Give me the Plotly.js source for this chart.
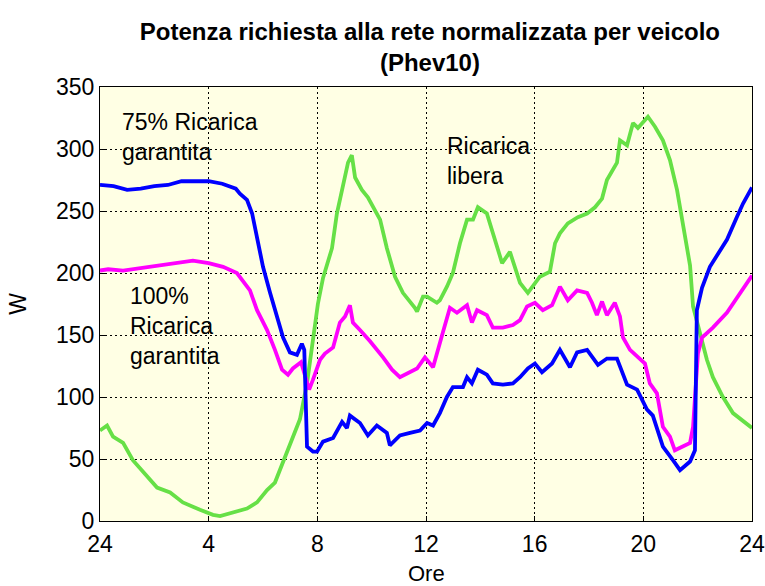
<!DOCTYPE html>
<html>
<head>
<meta charset="utf-8">
<script src="https://cdn.plot.ly/plotly-3.0.1.min.js"></script>
<style>body{margin:0;background:#fff}#chart{width:765px;height:586px}</style>
</head>
<body>
<div id="chart"></div>
<script>
// Hours of day (0 = midnight, shown as "24")
const tickVals = [0, 4, 8, 12, 16, 20, 24];
const tickLabels = ['24', '4', '8', '12', '16', '20', '24'];

// Ricarica libera (green)
const liberaHours = [0,0.26,0.48,0.85,1.21,1.73,2.1,2.58,3.05,3.68,4.16,4.42,4.9,5.41,5.78,6.15,6.44,6.74,7.1,7.36,7.62,7.8,8.02,8.21,8.54,8.72,8.94,9.13,9.27,9.39,9.64,9.86,10.31,10.56,10.86,11.15,11.59,11.67,11.89,12.04,12.4,12.51,12.77,12.99,13.25,13.51,13.73,13.91,14.24,14.46,14.8,15.09,15.46,15.75,16.19,16.56,16.75,16.93,17.22,17.59,17.93,18.22,18.48,18.66,19.03,19.14,19.4,19.62,19.8,20.17,20.43,20.72,20.98,21.24,21.46,21.72,21.83,22.08,22.34,22.56,22.93,23.3,23.67,24];
const liberaW = [73,77,68,63,49,36,27,23,15,9,5,4,7,10,15,25,31,47,68,82,111,138,175,196,220,248,269,289,295,277,267,261,243,220,197,184,172,169,181,181,176,178,189,200,224,243,243,253,248,232,208,217,192,184,197,201,224,232,240,245,248,253,260,275,289,307,303,321,317,326,318,307,291,267,237,206,173,152,130,116,100,87,81,75];

// 100% Ricarica garantita (magenta)
const g100Hours = [0,0.3,0.85,1.5,2.1,2.8,3.42,4.0,4.53,5.04,5.52,5.78,6.15,6.44,6.7,6.92,7.1,7.4,7.7,7.84,8.1,8.28,8.58,8.83,9.02,9.2,9.31,9.57,9.94,10.42,10.75,11.04,11.3,11.67,11.96,12.26,12.62,12.88,13.14,13.51,13.69,13.88,14.24,14.46,14.83,15.2,15.46,15.72,16.01,16.3,16.64,16.93,17.22,17.56,17.93,18.11,18.29,18.48,18.66,18.95,19.14,19.25,19.51,19.87,20.06,20.24,20.5,20.72,20.98,21.16,21.46,21.72,21.83,22.01,22.16,22.56,23.08,23.55,24];
const g100W = [202,203,202,204,206,208,210,208,205,200,186,170,154,138,122,118,123,128,106,114,130,135,140,160,165,174,160,154,145,132,122,116,119,123,132,124,152,172,168,174,160,170,166,156,156,158,162,173,176,170,174,189,178,186,184,176,166,177,166,176,165,148,138,131,127,111,103,76,68,57,60,63,76,135,148,156,168,184,198];

// 75% Ricarica garantita (blue)
const g75Hours = [0,0.5,1.0,1.5,2.0,2.5,3.0,3.5,4.0,4.5,5.0,5.15,5.41,5.6,5.78,6.0,6.26,6.44,6.74,6.99,7.25,7.43,7.52,7.62,7.84,7.99,8.21,8.58,8.91,9.09,9.2,9.57,9.86,10.19,10.56,10.67,11.04,11.41,11.78,12.04,12.26,12.51,12.77,12.99,13.36,13.51,13.69,13.91,14.24,14.46,14.83,15.2,15.46,15.75,16.01,16.27,16.64,16.93,17.3,17.56,17.93,18.33,18.66,19.03,19.4,19.77,20.13,20.35,20.72,21.09,21.35,21.72,21.9,21.97,22.08,22.16,22.45,22.82,23.08,23.44,23.67,24];
const g75W = [271,270,267,268,270,271,274,274,274,272,268,264,259,248,229,205,184,170,148,136,134,143,138,60,56,56,64,67,80,75,85,79,69,77,71,61,69,71,73,79,77,87,100,108,108,116,111,122,118,111,110,111,116,123,127,120,127,138,124,136,138,126,131,131,110,106,90,85,60,49,41,48,57,170,181,188,205,218,227,245,256,269];

const lineW = 3.8;
const font = 'Liberation Sans, Arial, sans-serif';

const traces = [
  {x: liberaHours, y: liberaW, mode: 'lines', line: {color: '#66e046', width: lineW}, name: 'Ricarica libera'},
  {x: g100Hours, y: g100W, mode: 'lines', line: {color: '#ff00ff', width: lineW}, name: '100% Ricarica garantita'},
  {x: g75Hours, y: g75W, mode: 'lines', line: {color: '#0000ff', width: lineW}, name: '75% Ricarica garantita'}
];

const axisCommon = {
  showline: true, mirror: true, linecolor: '#000', linewidth: 1,
  showgrid: true, gridcolor: '#000', gridwidth: 1, griddash: '2px,3px',
  ticks: 'inside', ticklen: 5, tickcolor: '#000',
  zeroline: false, tickfont: {family: font, size: 23, color: '#000'}
};

const layout = {
  width: 765, height: 586,
  margin: {l: 100, r: 13, t: 87, b: 65},
  paper_bgcolor: '#ffffff',
  plot_bgcolor: '#ffffe4',
  showlegend: false,
  title: {text: '<b>Potenza richiesta alla rete normalizzata per veicolo<br>(Phev10)</b>',
          font: {family: font, size: 24, color: '#000'}, x: 0.562, xanchor: 'center', y: 0.932, yanchor: 'top'},
  xaxis: Object.assign({}, axisCommon, {
    range: [0, 24], tickvals: tickVals, ticktext: tickLabels, ticklabelstandoff: 2
  }),
  yaxis: Object.assign({}, axisCommon, {
    range: [0, 350], dtick: 50, tick0: 0,
    title: {text: 'W', font: {family: font, size: 23, color: '#000'}, standoff: 22}
  }),
  annotations: [
    {xref: 'paper', yref: 'paper', x: 0.5, y: -0.122, xanchor: 'center', yanchor: 'middle', showarrow: false,
     text: 'Ore', font: {family: font, size: 22, color: '#000'}},
    {xref: 'paper', yref: 'paper', x: 0.031, y: 0.885, xanchor: 'left', yanchor: 'middle', align: 'left', showarrow: false,
     text: '75% Ricarica<br>garantita', font: {family: font, size: 23, color: '#000'}},
    {xref: 'paper', yref: 'paper', x: 0.043, y: 0.449, xanchor: 'left', yanchor: 'middle', align: 'left', showarrow: false,
     text: '100%<br>Ricarica<br>garantita', font: {family: font, size: 23, color: '#000'}},
    {xref: 'paper', yref: 'paper', x: 0.529, y: 0.829, xanchor: 'left', yanchor: 'middle', align: 'left', showarrow: false,
     text: 'Ricarica<br>libera', font: {family: font, size: 23, color: '#000'}}
  ]
};

Plotly.newPlot('chart', traces, layout, {displayModeBar: false, staticPlot: true});
</script>
</body>
</html>
